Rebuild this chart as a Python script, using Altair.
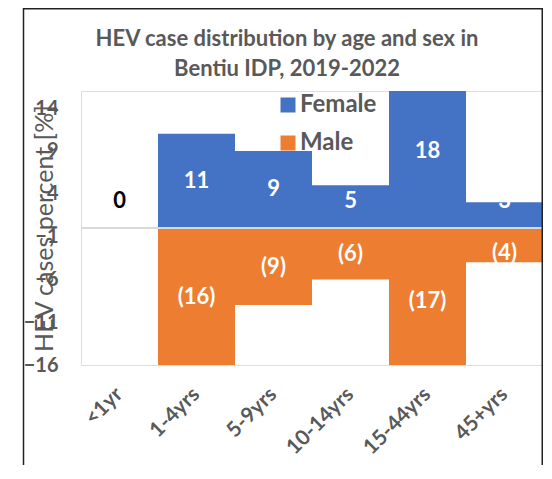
import altair as alt
import pandas as pd

ages = ["<1yr", "1-4yrs", "5-9yrs", "10-14yrs", "15-44yrs", "45+yrs"]
female = [0, 11, 9, 5, 18, 3]
male = [0, 16, 9, 6, 17, 4]
female_labels = ["0", "11", "9", "5", "18", "3"]
male_labels = ["", "(16)", "(9)", "(6)", "(17)", "(4)"]
y_ticks = [-16, -11, -6, -1, 4, 9, 14]
sexes = ["Female", "Male"]
colors = ["#4472C4", "#ED7D31"]

rows = []
for a, f, fl in zip(ages, female, female_labels):
    rows.append({"age": a, "sex": "Female", "value": f, "label": fl})
for a, m, ml in zip(ages, male, male_labels):
    rows.append({"age": a, "sex": "Male", "value": -m, "label": ml})
df = pd.DataFrame(rows)

W, H = 462, 274
PAD_L, PAD_T, PAD_R, PAD_B = 73, 83, 0, 100
FONT = "Lato"
GRAY = "#595959"

x_enc = alt.X(
    "age:N", sort=ages,
    scale=alt.Scale(paddingInner=0, paddingOuter=0),
    axis=alt.Axis(
        title=None, domain=False, ticks=False, grid=False, labelAngle=-45,
        labelAlign="right", labelBaseline="middle", labelPadding=26,
        labelFont=FONT, labelFontSize=21, labelFontWeight="bold",
        labelColor=GRAY,
    ),
)
y_scale = alt.Scale(domain=[-16, 16], nice=False, zero=False)

bars = alt.Chart(df).mark_bar(clip=True, stroke=None).encode(
    x=x_enc,
    y=alt.Y(
        "value:Q", scale=y_scale,
        axis=alt.Axis(
            values=y_ticks, domain=False, ticks=False, grid=False,
            labelPadding=23, labelFont=FONT, labelFontSize=20,
            labelFontWeight="bold", labelColor=GRAY,
            title="HEV cases percent [%]", titleFont=FONT, titleFontSize=25,
            titleFontWeight="normal", titleColor=GRAY, titleX=-37,
            titleY=H / 2, titleAngle=-90, titleBaseline="middle",
            titleAlign="center",
        ),
    ),
    color=alt.Color(
        "sex:N",
        scale=alt.Scale(domain=sexes, range=colors),
        legend=alt.Legend(
            title=None, orient="none", legendX=195, legendY=2,
            symbolType="square", symbolSize=225, symbolStrokeWidth=0,
            labelFont=FONT, labelFontSize=24, labelFontWeight="bold",
            labelColor=GRAY, labelOffset=0, rowPadding=14, padding=0,
            labelExpr="datum.label == 'Male' ? '\u00a0\u00a0Male' : datum.label",
        ),
    ),
)

zero_rule = alt.Chart(df).mark_rule(color="#d9d9d9", strokeWidth=2).encode(
    y=alt.datum(0, scale=y_scale)
)

labels = alt.Chart(df).transform_calculate(
    pos="datum.value >= 0 ? max(datum.value / 2, 3.1) : min(datum.value / 2, -2.9)"
).mark_text(
    font=FONT, fontSize=22, fontWeight="bold", baseline="middle", align="center"
).encode(
    x=alt.X("age:N", sort=ages),
    y=alt.Y("pos:Q", scale=y_scale),
    text="label:N",
    color=alt.condition("datum.value == 0", alt.value("#000000"), alt.value("#ffffff")),
)

frame = alt.Chart(pd.DataFrame({"k": [0]})).mark_rect(
    fillOpacity=0, stroke="#222222", strokeWidth=1.5
).encode(
    x=alt.value(-PAD_L + 15.5), x2=alt.value(W - 0.75),
    y=alt.value(-PAD_T + 0.75), y2=alt.value(H + PAD_B + 10),
)

chart = alt.layer(bars, zero_rule, labels, frame).properties(
    width=W, height=H,
    title=alt.TitleParams(
        text=["HEV case distribution by age and sex in", "Bentiu IDP, 2019-2022"],
        font=FONT, fontSize=22, fontWeight="bold", color=GRAY,
        anchor="middle", dx=-25, dy=83, offset=10, lineHeight=30,
    ),
    autosize=alt.AutoSizeParams(type="none"),
    padding={"left": PAD_L, "top": PAD_T, "right": PAD_R, "bottom": PAD_B},
).configure_view(stroke=None, strokeWidth=0).configure(background="white")

chart.save("out.html", embed_options={"renderer": "svg", "actions": False})
